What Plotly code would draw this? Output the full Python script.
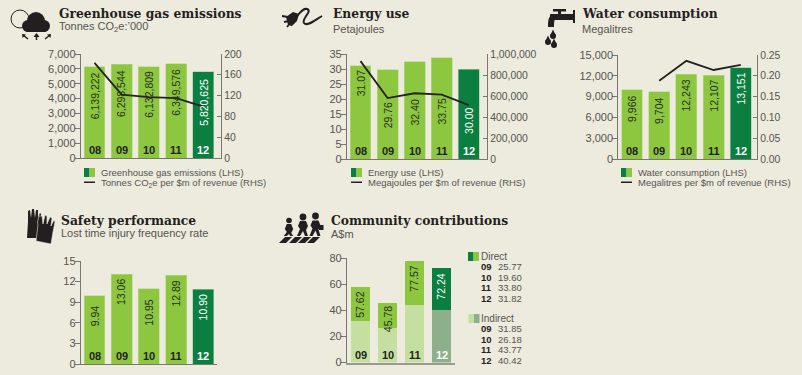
import plotly.graph_objects as go

W, H = 802, 375
BG = "#EDEADE"
LIGHT = "#8DC63F"
DARK = "#0B7F40"
PALE = "#C5DFA0"
DIMDARK = "#8DB08B"
AXIS = "#77776F"
TXT = "#55554E"
INK = "#231F20"
SANS = "Liberation Sans"
SERIF = "DejaVu Serif"

# ---- data ----
years_a = ["08", "09", "10", "11", "12"]
ghg_tonnes = [6139222, 6298544, 6132809, 6349576, 5820625]
ghg_intensity = [183, 122, 117, 115, 99]
energy_pj = [31.07, 29.76, 32.40, 33.75, 30.00]
energy_intensity = [932000, 580000, 626000, 613000, 513000]
water_ml = [9966, 9704, 12243, 12107, 13151]
water_intensity = [None, 0.188, 0.236, 0.214, 0.226]
ltifr = [9.94, 13.06, 10.95, 12.89, 10.90]
years_c = ["09", "10", "11", "12"]
direct = [25.77, 19.60, 33.80, 31.82]
indirect = [31.85, 26.18, 43.77, 40.42]
community_total = [57.62, 45.78, 77.57, 72.24]

ghg_ticks = [0, 1000, 2000, 3000, 4000, 5000, 6000, 7000]
ghg_r_ticks = [0, 40, 80, 120, 160, 200]
energy_ticks = [0, 5, 10, 15, 20, 25, 30, 35]
energy_r_ticks = [0, 200000, 400000, 600000, 800000, 1000000]
water_ticks = [0, 3000, 6000, 9000, 12000, 15000]
water_r_ticks = [0.00, 0.05, 0.10, 0.15, 0.20, 0.25]
ltifr_ticks = [0, 3, 6, 9, 12, 15]
comm_ticks = [0, 20, 40, 60, 80]

fig = go.Figure()
annots, shapes = [], []
px = lambda x: x / W
py = lambda y: 1 - y / H


def text(x, y, s, size=10.5, color=TXT, font=SANS, anchor="left", bold=False):
    annots.append(dict(xref="paper", yref="paper", x=px(x), y=py(y), text=f"<b>{s}</b>" if bold else s,
                       showarrow=False, xanchor=anchor, yanchor="middle",
                       font=dict(family=font, size=size, color=color),
                       borderpad=0, borderwidth=0))


def path(points, fill=INK, line=None, width=0, close=True):
    d = "M" + " L".join(f"{px(a):.5f},{py(b):.5f}" for a, b in points) + (" Z" if close else "")
    shapes.append(dict(type="path", xref="paper", yref="paper", path=d, fillcolor=fill if close else "rgba(0,0,0,0)",
                       line=dict(color=line or "rgba(0,0,0,0)", width=width), layer="above"))


def curve(d, color=INK, width=2):
    """d: list of tokens; numbers are alternately pixel x and y."""
    out, is_x = [], True
    for t in d:
        if isinstance(t, str):
            out.append(t)
            is_x = True
        else:
            out.append(f"{px(t) if is_x else py(t):.5f}" + ("," if is_x else " "))
            is_x = not is_x
    shapes.append(dict(type="path", xref="paper", yref="paper", path="".join(out),
                       fillcolor="rgba(0,0,0,0)", line=dict(color=color, width=width), layer="above"))


def circle(cx, cy, r, fill=INK, line=None, width=0):
    shapes.append(dict(type="circle", xref="paper", yref="paper", x0=px(cx - r), x1=px(cx + r), y0=py(cy + r), y1=py(cy - r),
                       fillcolor=fill, line=dict(color=line or "rgba(0,0,0,0)", width=width), layer="above"))


def rect(x0, y0, x1, y1, fill):
    shapes.append(dict(type="rect", xref="paper", yref="paper", x0=px(x0), x1=px(x1), y0=py(y1), y1=py(y0),
                       fillcolor=fill, line=dict(width=0), layer="above"))


def swatch(x, y, first=DARK, second=LIGHT, w=11, h=9):
    rect(x, y, x + w / 2, y + h, first)
    rect(x + w / 2, y, x + w, y + h, second)


def panel(n, xs, ytop, ybot, xright, yrange, ticks, ticktext, right=None, base_width=1.2, base_color=AXIS):
    """Configure one left axis (and optional right axis) in pixel geometry."""
    xname = f"xaxis{n}"
    yname = f"yaxis{n}"
    span = (xright - xs[0]) / xs[1]
    fig.layout[xname] = dict(domain=[px(xs[0] - 0.5 * xs[1]), px(xright)], range=[-0.5, span], visible=True, showgrid=False,
                             zeroline=False, showticklabels=False, ticks="", anchor=f"y{n}", automargin=False,
                             showline=True, linecolor=base_color, linewidth=base_width, layer="above traces")
    fig.layout[yname] = dict(domain=[py(ybot), py(ytop)], range=yrange, tickvals=ticks, ticktext=ticktext, anchor=f"x{n}",
                             showgrid=False, zeroline=False, showline=True, linecolor=AXIS, linewidth=1.2, automargin=False,
                             ticks="outside", ticklen=5, tickcolor=AXIS, tickwidth=1, ticklabelstandoff=-3,
                             tickfont=dict(family=SANS, size=11, color=TXT), layer="above traces")
    if right:
        fig.layout[f"yaxis{n + 10}"] = dict(domain=[py(ybot), py(ytop)], range=right[0], tickvals=right[1], ticktext=right[2],
                                            overlaying=f"y{n}", side="right", anchor=f"x{n}", showgrid=False, zeroline=False,
                                            showline=True, linecolor=AXIS, linewidth=1.2, ticks="inside", ticklen=4,
                                            tickcolor=AXIS, tickwidth=1, automargin=False,
                                            tickfont=dict(family=SANS, size=10.4, color=TXT), layer="above traces")


def value_labels(n, values, strs, shifts):
    for i, (v, s, sh) in enumerate(zip(values, strs, shifts)):
        annots.append(dict(xref=f"x{n}", yref=f"y{n}", x=i, y=v, text=s, textangle=-90, showarrow=False,
                           yanchor="middle", xanchor="center", yshift=-sh,
                           font=dict(family=SANS, size=10.5, color="#FFFFFF" if i == len(values) - 1 else "#26301A")))


def year_labels(n, labels):
    for i, s in enumerate(labels):
        annots.append(dict(xref=f"x{n}", yref=f"y{n}", x=i, y=0, text=f"<b>{s}</b>", showarrow=False,
                           yanchor="bottom", xanchor="center", yshift=0,
                           font=dict(family=SANS, size=11, color="#FFFFFF" if i == len(labels) - 1 else INK)))


bar_colors = [LIGHT] * 4 + [DARK]
bar_edges = ["#BAD98A"] * 4 + ["#9CC8A6"]


def bars(n, labels, values):
    fig.add_trace(go.Bar(x=list(range(len(labels))), y=values, xaxis=f"x{n}", yaxis=f"y{n}", width=0.77,
                         marker=dict(color=bar_colors, line=dict(color=bar_edges, width=0.6)), showlegend=False,
                         hoverinfo="skip"))


def line(n, values, right_n):
    fig.add_trace(go.Scatter(x=list(range(len(values))), y=values, xaxis=f"x{n}", yaxis=f"y{right_n}", mode="lines",
                             line=dict(color="#22231E", width=1.8), showlegend=False, hoverinfo="skip",
                             connectgaps=False, cliponaxis=False))


def header(x, title, sub_y, sub):
    text(x, 14, title, size=12.3, color=INK, font=SERIF, bold=True)
    text(x, sub_y, sub, size=11, color=TXT)


# ---- panel 1: greenhouse gas ----
panel(1, (94.5, 27.2), 54, 158, 221, [0, 7000], ghg_ticks, [f"{v:,}" for v in ghg_ticks],
      right=([0, 200], ghg_r_ticks, [str(v) for v in ghg_r_ticks]))
bars(1, years_a, [v / 1000 for v in ghg_tonnes])
line(1, ghg_intensity, 11)
value_labels(1, [v / 1000 for v in ghg_tonnes], [f"{v:,}" for v in ghg_tonnes], [29, 29, 27, 29, 31])
year_labels(1, years_a)
header(59, "Greenhouse gas emissions", 27, "Tonnes CO<sub>2</sub>e:’000")
swatch(84, 168)
text(101, 172.5, "Greenhouse gas emissions (LHS)", size=9.5)
rect(84, 181.5, 95, 183, INK)
text(101, 182.5, "Tonnes CO<sub>2</sub>e per $m of revenue (RHS)", size=9.5)

# ---- panel 2: energy ----
panel(2, (360.5, 27.1), 54, 159, 487, [0, 35], energy_ticks, [str(v) for v in energy_ticks],
      right=([0, 1000000], energy_r_ticks, [f"{v:,}" for v in energy_r_ticks]))
bars(2, years_a, energy_pj)
line(2, energy_intensity, 12)
value_labels(2, energy_pj, [f"{v:.2f}" for v in energy_pj], [18, 46, 51, 54, 52])
year_labels(2, years_a)
header(332.5, "Energy use", 29, "Petajoules")
swatch(351, 168)
text(367.5, 172.5, "Energy use (LHS)", size=9.5)
rect(351, 181.5, 362, 183, INK)
text(367.5, 182.5, "Megajoules per $m of revenue (RHS)", size=9.5)

# ---- panel 3: water ----
panel(3, (632, 27.2), 55, 159, 757, [0, 15000], water_ticks, [f"{v:,}" for v in water_ticks],
      right=([0, 0.25], water_r_ticks, [f"{v:.2f}" for v in water_r_ticks]))
bars(3, years_a, water_ml)
line(3, water_intensity, 13)
value_labels(3, water_ml, [f"{v:,}" for v in water_ml], [19, 19, 21, 21, 21])
year_labels(3, years_a)
header(582, "Water consumption", 29, "Megalitres")
swatch(621, 168)
text(638, 172.5, "Water consumption (LHS)", size=9.5)
rect(621, 181.5, 632, 183, INK)
text(638, 182.5, "Megalitres per $m of revenue (RHS)", size=9.5)

# ---- panel 4: safety ----
panel(4, (94.5, 27.2), 261, 364, 217, [0, 15], ltifr_ticks, [str(v) for v in ltifr_ticks])
bars(4, years_a, ltifr)
value_labels(4, ltifr, [f"{v:.2f}" for v in ltifr], [20, 18, 24, 18, 18])
year_labels(4, years_a)
text(61, 220, "Safety performance", size=12.3, color=INK, font=SERIF, bold=True)
text(61, 233, "Lost time injury frequency rate", size=11)

# ---- panel 5: community ----
panel(5, (360.5, 27), 258, 362.5, 455, [0, 80], comm_ticks, [str(v) for v in comm_ticks], base_width=2, base_color="#9A9A90")
c_x = list(range(len(years_c)))
fig.add_trace(go.Bar(x=c_x, y=indirect, xaxis="x5", yaxis="y5", width=0.71,
                     marker=dict(color=[PALE] * 3 + [DIMDARK], line=dict(width=0)), showlegend=False, hoverinfo="skip"))
fig.add_trace(go.Bar(x=c_x, y=direct, xaxis="x5", yaxis="y5", width=0.71,
                     marker=dict(color=[LIGHT] * 3 + [DARK], line=dict(width=0)), showlegend=False, hoverinfo="skip"))
fig.update_layout(barmode="stack")
value_labels(5, community_total, [f"{v:.2f}" for v in community_total], [18, 17, 18, 19])
year_labels(5, years_c)
text(331, 220, "Community contributions", size=12.3, color=INK, font=SERIF, bold=True)
text(331, 234, "A$m", size=11)

swatch(468, 252, DARK, LIGHT)
text(481, 256.7, "Direct", size=10)
for i, (y, v) in enumerate(zip(years_c, direct)):
    text(481, 266.7 + i * 10.5, y, size=9.5, color=INK, bold=True)
    text(498, 266.7 + i * 10.5, f"{v:.2f}", size=9.5)
swatch(468.5, 314, PALE, DIMDARK)
text(481, 318, "Indirect", size=10)
for i, (y, v) in enumerate(zip(years_c, indirect)):
    text(481, 328.5 + i * 10.5, y, size=9.5, color=INK, bold=True)
    text(498, 328.5 + i * 10.5, f"{v:.2f}", size=9.5)

# ---- icons ----
# cloud
circle(20, 19, 9, fill="rgba(0,0,0,0)", line=INK, width=1)
circle(36, 21, 9)
circle(28, 26, 6)
circle(44, 26, 6)
rect(26, 26, 46, 32, INK)
for (x0, y0, x1, y1) in [(28, 39, 23, 35), (36.5, 40, 36.5, 34), (45, 39, 50, 35)]:
    path([(x0, y0), (x1, y1)], line=INK, width=1.5, close=False)
path([(22, 34), (26, 34.5), (22.5, 38)])
path([(33.5, 37), (36.5, 33), (39.5, 37)])
path([(51, 34), (47, 34.5), (50.5, 38)])
# plug
path([(286, 17), (293, 12), (299, 14), (297, 21), (292, 26), (288, 25)])
for a, b, c, d in [(282, 16, 288, 17), (284, 22, 289, 21), (287, 27, 290, 23)]:
    path([(a, b), (c, d)], line=INK, width=1.8, close=False)
curve(["M", 297, 16, "C", 301, 12, 303, 8, 307, 9, "C", 313, 11, 301, 19, 304, 23, "C", 307, 27, 315, 20, 322, 16], width=2)
# tap
rect(553, 9, 566, 11.5, INK)
rect(558, 10, 561, 14, INK)
rect(573, 10, 575, 23, INK)
rect(550, 14, 573, 20, INK)
curve(["M", 554, 17, "C", 551, 18, 551, 22, 551, 27], width=6)
for cx, cy, r in [(553, 36, 3), (548, 42, 3), (554, 45, 3)]:
    circle(cx, cy, r)
    path([(cx - r, cy), (cx, cy - 2.2 * r), (cx + r, cy)])
# gloves
path([(27, 238), (28, 222), (28, 211), (30, 210), (31, 218), (32, 209), (34, 209), (35, 218), (36, 210), (38, 210),
      (38, 218), (40, 213), (41, 214), (41, 225), (40, 238)])
path([(36, 241), (38, 225), (37.5, 222), (39, 216), (42, 216), (43, 224), (45, 215), (47, 216), (47, 224), (50, 217),
      (52, 218), (51, 226), (54, 220), (55, 222), (53, 232), (51, 244)], line=BG, width=0.6)
# people + crossing
for x0 in (279, 289, 298, 307):
    path([(x0, 243), (x0 + 7, 243), (x0 + 13, 237), (x0 + 6, 237)])
for cx, cy, r, top, bot, half in [(289, 220.5, 2.8, 224, 236, 3.2), (303, 217, 3.4, 221, 236, 4), (315.5, 216, 3.4, 220.5, 236, 4)]:
    circle(cx, cy, r)
    path([(cx - half - 1, top + 5), (cx - half + 1, top), (cx + half - 1, top), (cx + half + 1, top + 5), (cx + half - 1, top + 9),
          (cx + half + 1, bot), (cx + half - 2, bot), (cx, top + 10), (cx - half + 1, bot), (cx - half - 2, bot), (cx - half + 1, top + 8)])
rect(319, 225, 323.5, 230, INK)

fig.update_layout(width=W, height=H, margin=dict(l=0, r=0, t=0, b=0, pad=0, autoexpand=False), paper_bgcolor=BG, plot_bgcolor=BG,
                  bargap=0.2, showlegend=False, annotations=annots, shapes=shapes,
                  font=dict(family=SANS, color=TXT))
fig.write_html("out.html", config={"displayModeBar": False},
               post_script="document.body.style.margin='0';document.body.style.overflow='hidden';document.body.style.background='" + BG + "';")
